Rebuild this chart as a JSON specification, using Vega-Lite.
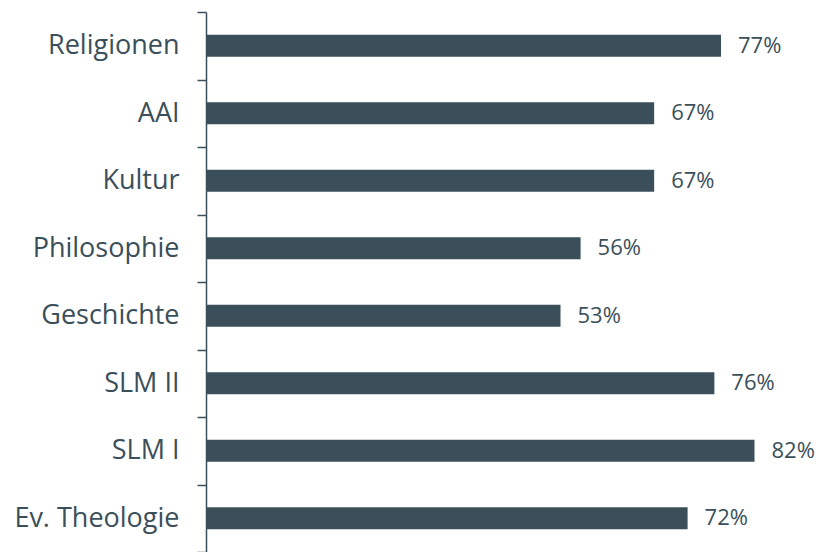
{
  "$schema": "https://vega.github.io/schema/vega-lite/v6.json",
  "autosize": "none",
  "padding": {"left": 206, "top": 12, "right": 11, "bottom": 0},
  "width": 602,
  "height": 540,
  "background": "white",
  "config": {"view": {"stroke": null}},
  "data": {
    "values": [
      {"kategorie": "Religionen", "anteil": 0.77},
      {"kategorie": "AAI", "anteil": 0.67},
      {"kategorie": "Kultur", "anteil": 0.67},
      {"kategorie": "Philosophie", "anteil": 0.56},
      {"kategorie": "Geschichte", "anteil": 0.53},
      {"kategorie": "SLM II", "anteil": 0.76},
      {"kategorie": "SLM I", "anteil": 0.82},
      {"kategorie": "Ev. Theologie", "anteil": 0.72}
    ]
  },
  "encoding": {
    "y": {
      "field": "kategorie",
      "type": "nominal",
      "sort": null,
      "scale": {"paddingInner": 0, "paddingOuter": 0},
      "axis": {
        "title": null,
        "tickBand": "extent",
        "tickSize": 9,
        "tickWidth": 1.5,
        "tickColor": "#3b4f5a",
        "domainColor": "#3b4f5a",
        "domainWidth": 1.5,
        "labelPadding": 18,
        "labelFont": "Open Sans",
        "labelFontSize": 27,
        "labelColor": "#3b4f5a",
        "labelLimit": 300
      }
    },
    "x": {
      "field": "anteil",
      "type": "quantitative",
      "scale": {"domain": [0, 0.9], "nice": false},
      "axis": null
    }
  },
  "layer": [
    {"mark": {"type": "bar", "size": 22, "color": "#3b4f5a"}},
    {
      "mark": {"type": "text", "align": "left", "baseline": "middle", "dx": 17, "font": "Open Sans", "fontSize": 22, "color": "#3b4f5a"},
      "encoding": {"text": {"field": "anteil", "type": "quantitative", "format": ".0%"}}
    }
  ]
}
